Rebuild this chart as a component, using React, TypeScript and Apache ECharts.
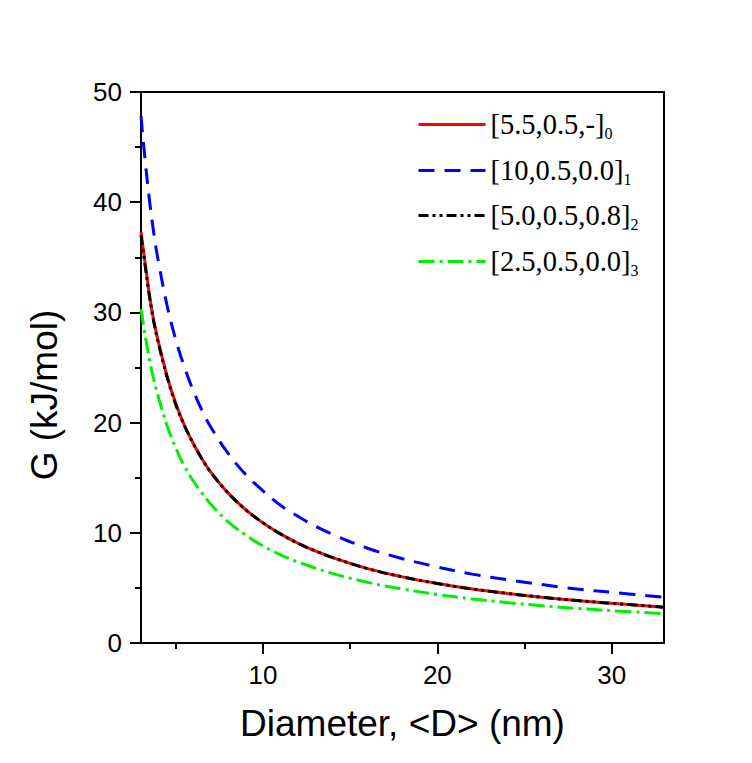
import React, { useEffect, useRef } from "react";
import * as echarts from "echarts";

// Diameter <D> (nm)
const diameters = [3, 3.25, 3.5, 3.75, 4, 4.5, 5, 5.5, 6, 6.5, 7, 8, 9, 10, 11, 12, 13, 14, 16, 18, 20, 22, 24, 26, 28, 30, 33];

// G (kJ/mol) for each model
const redG = [37.3, 34.3, 31.4, 29.1, 27.3, 24.2, 21.7, 19.7, 18.1, 16.7, 15.5, 13.6, 12.1, 10.9, 9.9, 9.05, 8.35, 7.75, 6.75, 6.0, 5.4, 4.9, 4.5, 4.15, 3.85, 3.6, 3.25];
const blueG = [47.8, 43.6, 40.0, 37.0, 34.6, 30.6, 27.5, 25.0, 22.9, 21.1, 19.6, 17.2, 15.3, 13.8, 12.5, 11.5, 10.6, 9.85, 8.6, 7.65, 6.9, 6.25, 5.75, 5.3, 4.9, 4.6, 4.15];
const blackG = [37.0, 34.1, 31.3, 29.0, 27.2, 24.1, 21.6, 19.7, 18.1, 16.7, 15.5, 13.6, 12.1, 10.9, 9.9, 9.05, 8.35, 7.75, 6.75, 6.0, 5.4, 4.9, 4.5, 4.15, 3.85, 3.6, 3.25];
const greenG = [30.3, 27.8, 25.6, 23.8, 22.3, 19.7, 17.7, 16.0, 14.7, 13.6, 12.6, 11.0, 9.8, 8.8, 8.0, 7.35, 6.8, 6.3, 5.5, 4.9, 4.4, 4.0, 3.67, 3.38, 3.14, 2.93, 2.67];

const seriesNames = ["[5.5,0.5,-]", "[10,0.5,0.0]", "[5.0,0.5,0.8]", "[2.5,0.5,0.0]"];
const seriesSubs = ["0", "1", "2", "3"];

const xMajorTicks = [10, 20, 30];
const xMinorTicks = [5, 15, 25];

export default function App() {
  const ref = useRef<HTMLDivElement>(null);
  useEffect(() => {
    if (!ref.current) return;
    const chart = echarts.init(ref.current, undefined, { renderer: "svg" });
    const allData = [redG, blueG, blackG, greenG];
    const colors = ["#ff0000", "#0000ff", "#000000", "#00ee00"];
    const dashes: any[] = ["solid", [16, 10], [10, 4, 3, 4, 3, 4], [16, 5, 3, 5]];
    const sans = "'Liberation Sans', Arial, sans-serif";
    const serif = "'Liberation Serif', 'Times New Roman', serif";
    const legendTops = [110, 156, 201, 247];

    const series = allData.map((vals, i) => ({
      type: "line",
      name: seriesNames[i],
      data: diameters.map((d, j) => [d, vals[j]]),
      symbol: "none",
      smooth: 0.4,
      lineStyle: { color: colors[i], width: 3, type: dashes[i] },
      itemStyle: { color: colors[i] },
      z: 2 + i,
    }));

    const legends = seriesNames.map((n, i) => ({
      data: [n],
      left: 417,
      top: legendTops[i],
      padding: 0,
      orient: "vertical",
      itemWidth: 67,
      itemHeight: 2,
      selectedMode: false,
      itemStyle: { opacity: 0 },
      lineStyle: { width: 3 },
      formatter: (name: string) => {
        const idx = seriesNames.indexOf(name);
        return `{m|${name}}{s|${seriesSubs[idx]}}`;
      },
      textStyle: {
        rich: {
          m: { fontSize: 28.5, fontFamily: serif, color: "#000", lineHeight: 34 },
          s: { fontSize: 16, fontFamily: serif, color: "#000", lineHeight: 12, verticalAlign: "bottom" },
        },
      },
    }));

    chart.setOption({
      animation: false,
      backgroundColor: "#ffffff",
      grid: {
        left: 141,
        right: 88,
        top: 92,
        bottom: 120,
        show: true,
        borderColor: "#000",
        borderWidth: 2,
        backgroundColor: "transparent",
      },
      legend: legends,
      graphic: [
        {
          type: "text",
          x: 44,
          y: 395,
          rotation: Math.PI / 2,
          style: {
            text: "G (kJ/mol)",
            fontSize: 37,
            fontFamily: sans,
            fill: "#000",
            align: "center",
            verticalAlign: "middle",
          },
        },
      ],
      xAxis: [
        {
          type: "value",
          min: 3,
          max: 33,
          position: "bottom",
          axisLine: { lineStyle: { color: "#000", width: 2 } },
          axisTick: { customValues: xMajorTicks, length: 11, lineStyle: { color: "#000", width: 2 } },
          axisLabel: { customValues: xMajorTicks, fontSize: 26, color: "#000", fontFamily: sans, margin: 19 },
          splitLine: { show: false },
          name: "Diameter, <D> (nm)",
          nameLocation: "middle",
          nameGap: 62,
          nameTextStyle: { fontSize: 37, color: "#000", fontFamily: sans },
        },
        {
          type: "value",
          min: 3,
          max: 33,
          position: "bottom",
          axisLine: { show: false },
          axisTick: { customValues: xMinorTicks, length: 6, lineStyle: { color: "#000", width: 2 } },
          axisLabel: { show: false },
          splitLine: { show: false },
        },
      ],
      yAxis: {
        type: "value",
        min: 0,
        max: 50,
        interval: 10,
        axisLine: { show: true, lineStyle: { color: "#000", width: 2 } },
        axisTick: { show: true, length: 11, lineStyle: { color: "#000", width: 2 } },
        minorTick: { show: true, splitNumber: 2, length: 6, lineStyle: { color: "#000", width: 2 } },
        axisLabel: { fontSize: 26, color: "#000", fontFamily: sans, margin: 19 },
        splitLine: { show: false },
        minorSplitLine: { show: false },
      },
      series,
    });
    return () => chart.dispose();
  }, []);
  return (
    <div
      ref={ref}
      style={{ position: "absolute", left: 0, top: 0, width: 752, height: 763, background: "#fff" }}
    />
  );
}
